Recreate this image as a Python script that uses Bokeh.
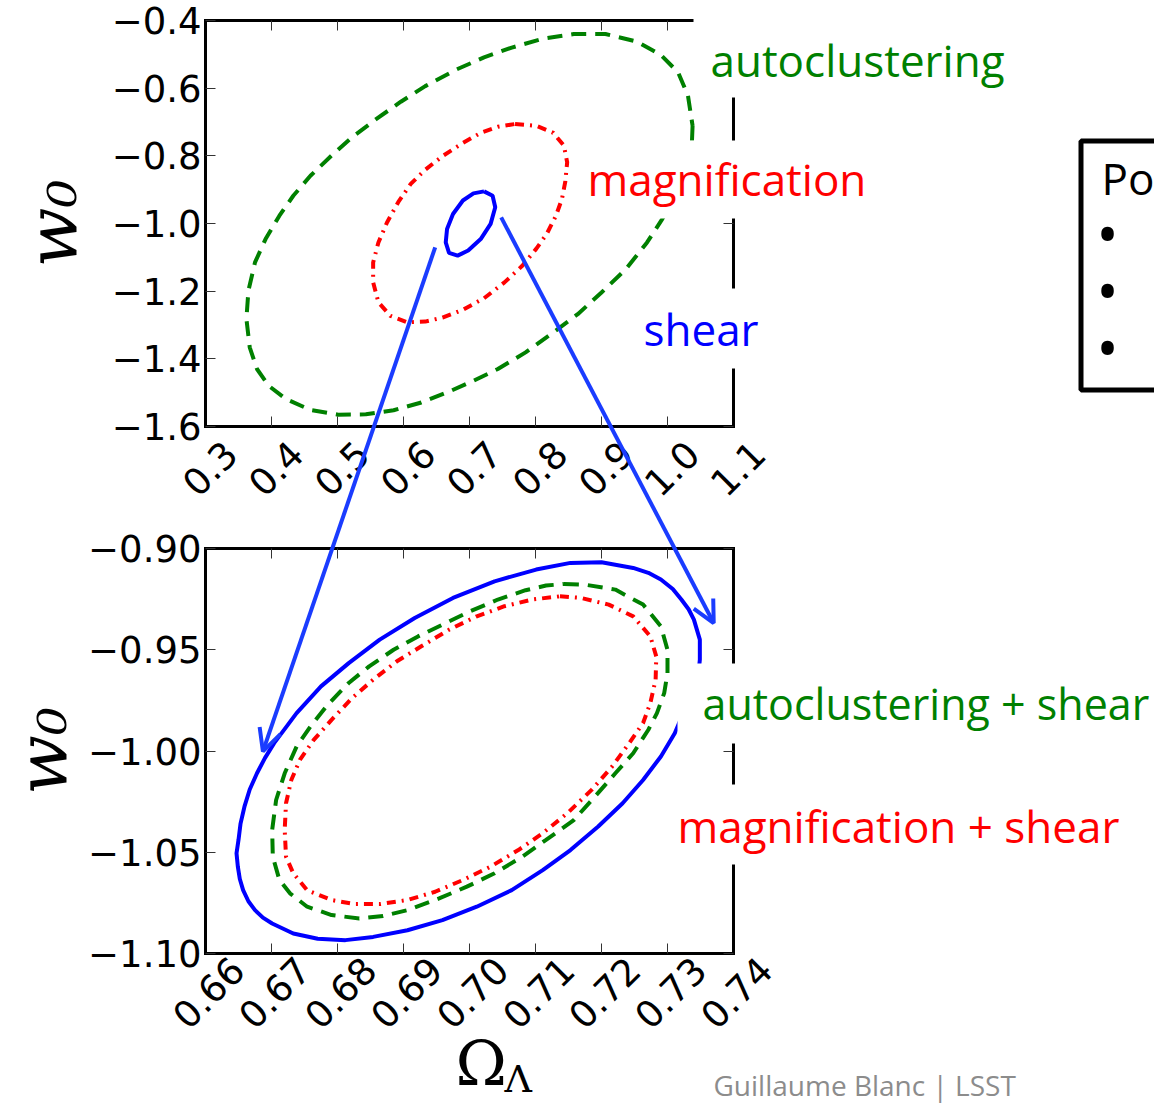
import math
from bokeh.plotting import figure
from bokeh.models import (Range1d, LinearAxis, FixedTicker, CustomJSTickFormatter,
                          Label, Arrow, OpenHead, BoxAnnotation)
from bokeh.embed import file_html
from bokeh.resources import INLINE

# ---------------- data ----------------
top_x_ticks = [0.3, 0.4, 0.5, 0.6, 0.7, 0.8, 0.9, 1.0, 1.1]
top_y_ticks = [-1.6, -1.4, -1.2, -1.0, -0.8, -0.6, -0.4]
bot_x_ticks = [0.66, 0.67, 0.68, 0.69, 0.70, 0.71, 0.72, 0.73, 0.74]
bot_y_ticks = [-1.10, -1.05, -1.00, -0.95, -0.90]

# top panel: autoclustering (green dashed)
top_auto_x = [1.038, 1.037, 1.033, 1.024, 1.010, 0.992, 0.969, 0.937, 0.900, 0.864,
              0.827, 0.785, 0.743, 0.706, 0.669, 0.627, 0.585, 0.543, 0.501, 0.459,
              0.422, 0.396, 0.378, 0.367, 0.362, 0.365, 0.375, 0.391, 0.412, 0.433,
              0.459, 0.491, 0.522, 0.559, 0.596, 0.633, 0.680, 0.722, 0.764, 0.811,
              0.858, 0.906, 0.953, 0.990, 1.016, 1.031, 1.038]
top_auto_y = [-0.711, -0.760, -0.809, -0.868, -0.928, -0.987, -1.056, -1.135, -1.204, -1.268,
              -1.322, -1.381, -1.430, -1.465, -1.497, -1.529, -1.552, -1.564, -1.565, -1.551,
              -1.519, -1.480, -1.430, -1.366, -1.282, -1.199, -1.115, -1.046, -0.977, -0.918,
              -0.859, -0.799, -0.745, -0.691, -0.640, -0.594, -0.545, -0.509, -0.480, -0.454,
              -0.440, -0.440, -0.462, -0.502, -0.553, -0.622, -0.711]
# top panel: magnification (red dash-dot)
top_mag_x = [0.769, 0.801, 0.827, 0.843, 0.848, 0.845, 0.840, 0.831, 0.817, 0.801,
             0.780, 0.753, 0.722, 0.690, 0.659, 0.633, 0.606, 0.580, 0.562, 0.554,
             0.554, 0.562, 0.575, 0.592, 0.611, 0.633, 0.659, 0.690, 0.717, 0.743, 0.769]
top_mag_y = [-0.706, -0.711, -0.732, -0.770, -0.819, -0.878, -0.928, -0.977, -1.031, -1.075,
             -1.125, -1.174, -1.221, -1.255, -1.278, -1.290, -1.292, -1.273, -1.233, -1.174,
             -1.115, -1.056, -0.997, -0.937, -0.883, -0.841, -0.801, -0.762, -0.732, -0.714, -0.706]
# top panel: shear (blue solid)
top_shear_x = [0.722, 0.735, 0.739, 0.732, 0.717, 0.698, 0.682, 0.669, 0.664, 0.666,
               0.675, 0.690, 0.706, 0.722]
top_shear_y = [-0.905, -0.918, -0.952, -1.001, -1.046, -1.080, -1.095, -1.087, -1.056, -1.016,
               -0.972, -0.932, -0.911, -0.905]

# bottom panel: shear (blue solid)
bot_shear_x = [0.7349, 0.7346, 0.7337, 0.7324, 0.7311, 0.7290, 0.7263, 0.7232, 0.7195, 0.7153,
               0.7111, 0.7064, 0.7011, 0.6959, 0.6906, 0.6854, 0.6812, 0.6770, 0.6733, 0.6701,
               0.6687, 0.6675, 0.6665, 0.6657, 0.6652, 0.6649, 0.6647, 0.6650, 0.6653, 0.6659,
               0.6667, 0.6678, 0.6690, 0.6704, 0.6738, 0.6775, 0.6817,
               0.6864, 0.6917, 0.6975, 0.7038, 0.7101, 0.7153, 0.7200, 0.7248, 0.7271, 0.7290,
               0.7308, 0.7321, 0.7332, 0.7340, 0.7349, 0.7349]
bot_shear_y = [-0.9549, -0.9648, -0.9730, -0.9813, -0.9912, -1.0027, -1.0143, -1.0258, -1.0373, -1.0489,
               -1.0588, -1.0687, -1.0769, -1.0835, -1.0885, -1.0918, -1.0934, -1.0927, -1.0901, -1.0852,
               -1.0823, -1.0786, -1.0742, -1.0687, -1.0632, -1.0571, -1.0505, -1.0439, -1.0360, -1.0275,
               -1.0190, -1.0110, -1.0035, -0.9961, -0.9813, -0.9681, -0.9566,
               -0.9450, -0.9343, -0.9244, -0.9162, -0.9104, -0.9071, -0.9068, -0.9096, -0.9120, -0.9153,
               -0.9200, -0.9252, -0.9300, -0.9351, -0.9450, -0.9549]
# bottom panel: autoclustering + shear (green dashed)
bot_auto_x = [0.7143, 0.7174, 0.7221, 0.7263, 0.7290, 0.7300, 0.7300, 0.7295, 0.7284, 0.7271,
              0.7248, 0.7221, 0.7190, 0.7158, 0.7116, 0.7080, 0.7038, 0.6996, 0.6954, 0.6906,
              0.6869, 0.6833, 0.6791, 0.6754, 0.6728, 0.6712, 0.6702, 0.6701, 0.6707, 0.6720,
              0.6738, 0.6759, 0.6785, 0.6817, 0.6848, 0.6885, 0.6922, 0.6959, 0.7001, 0.7043,
              0.7085, 0.7116, 0.7143]
bot_auto_y = [-0.9175, -0.9178, -0.9203, -0.9277, -0.9384, -0.9500, -0.9615, -0.9714, -0.9813, -0.9895,
              -1.0011, -1.0110, -1.0225, -1.0341, -1.0439, -1.0522, -1.0604, -1.0670, -1.0728, -1.0786,
              -1.0815, -1.0827, -1.0810, -1.0769, -1.0703, -1.0637, -1.0522, -1.0390, -1.0242, -1.0110,
              -0.9978, -0.9879, -0.9772, -0.9664, -0.9582, -0.9500, -0.9434, -0.9376, -0.9310, -0.9252,
              -0.9206, -0.9183, -0.9175]
# bottom panel: magnification + shear (red dash-dot)
bot_mag_x = [0.7137, 0.7169, 0.7211, 0.7248, 0.7274, 0.7283, 0.7282, 0.7274, 0.7263, 0.7242,
             0.7216, 0.7185, 0.7148, 0.7111, 0.7074, 0.7032, 0.6990, 0.6948, 0.6906, 0.6864,
             0.6827, 0.6791, 0.6754, 0.6733, 0.6722, 0.6720, 0.6722, 0.6730, 0.6743, 0.6764,
             0.6791, 0.6822, 0.6854, 0.6890, 0.6927, 0.6969, 0.7011, 0.7053, 0.7095, 0.7137]
bot_mag_y = [-0.9236, -0.9244, -0.9277, -0.9335, -0.9434, -0.9533, -0.9648, -0.9763, -0.9862, -0.9961,
             -1.0077, -1.0192, -1.0308, -1.0406, -1.0489, -1.0571, -1.0637, -1.0695, -1.0736, -1.0756,
             -1.0756, -1.0736, -1.0687, -1.0604, -1.0522, -1.0390, -1.0258, -1.0143, -1.0044, -0.9945,
             -0.9846, -0.9739, -0.9648, -0.9557, -0.9483, -0.9401, -0.9335, -0.9285, -0.9252, -0.9236]

# zoom arrows: start in top-panel data, end in bottom-panel data
arrow_starts_top = [(0.648, -1.0705), (0.748, -0.982)]
arrow_ends_bottom = [(0.6687, -1.0002), (0.737, -0.9368)]

# ---------------- layout (page pixels) ----------------
W, H = 1154, 1104
PL, PR = 205, 733                 # panel left / right
TOP_T, TOP_B = 20, 426            # top panel top / bottom
BOT_T, BOT_B = 548, 953           # bottom panel top / bottom
TX, TY = (0.3, 1.1), (-1.6, -0.4)
BX, BY = (0.66, 0.74), (-1.10, -0.90)

GREEN, RED, BLUE, ARROW = "#008000", "#ff0000", "#0000ff", "#1a3cff"
TICK_FONT = "DejaVu Sans"
LABEL_FONT = "Open Sans"
BASELINE_SHIFT = 0.42   # rendered baseline sits this many em below the anchor


def to_data(px, py, xr, yr, top_px, bot_px):
    x = xr[0] + (px - PL) / (PR - PL) * (xr[1] - xr[0])
    y = yr[1] - (py - top_px) / (bot_px - top_px) * (yr[1] - yr[0])
    return x, y


def to_px(x, y, xr, yr, top_px, bot_px):
    px = PL + (x - xr[0]) / (xr[1] - xr[0]) * (PR - PL)
    py = top_px + (yr[1] - y) / (yr[1] - yr[0]) * (bot_px - top_px)
    return px, py


def tdata(px, py):
    return to_data(px, py, TX, TY, TOP_T, TOP_B)


def full_ranges(xr, yr, top_px, bot_px, shift_px=0.0):
    x0, y0 = to_data(0 - shift_px, H, xr, yr, top_px, bot_px)
    x1, y1 = to_data(W - shift_px, 0, xr, yr, top_px, bot_px)
    return Range1d(x0, x1), Range1d(y0, y1)


tx_r, ty_r = full_ranges(TX, TY, TOP_T, TOP_B)
bx_r, by_r = full_ranges(BX, BY, BOT_T, BOT_B)
# ranges shifted right so that the 45-degree tick labels sit centred under their ticks
tx_lbl, _ = full_ranges(TX, TY, TOP_T, TOP_B, shift_px=25)
bx_lbl, _ = full_ranges(BX, BY, BOT_T, BOT_B, shift_px=32)

p = figure(width=W, height=H, x_range=tx_r, y_range=ty_r,
           x_axis_type=None, y_axis_type=None,
           output_backend="svg", toolbar_location=None, min_border=0)
p.extra_x_ranges = {"bx": bx_r, "tx_lbl": tx_lbl, "bx_lbl": bx_lbl}
p.extra_y_ranges = {"by": by_r}
p.outline_line_color = None
p.background_fill_color = "white"
p.border_fill_color = "white"


def fmt(d):
    return CustomJSTickFormatter(code="return tick.toFixed(%d).replace('-', '\\u2212');" % d)


SPINE = dict(axis_line_width=3, axis_line_color="black", axis_line_cap="square",
             major_tick_in=10, major_tick_out=0,
             major_tick_line_color="#333333", major_tick_line_width=1,
             minor_tick_in=0, minor_tick_out=0, minor_tick_line_color=None,
             major_label_text_font_size="0px", major_label_standoff=0)


def blank():
    return CustomJSTickFormatter(code="return '';")


def panel_axes(xname, yname, lblname, xr, yr, xt, yt, digits, xstand, lstand):
    # spines with inward ticks
    p.add_layout(LinearAxis(x_range_name=xname, y_range_name=yname, fixed_location=yr[0],
                            bounds=xr, ticker=FixedTicker(ticks=xt), formatter=blank(), **SPINE), "below")
    p.add_layout(LinearAxis(x_range_name=xname, y_range_name=yname, fixed_location=yr[1],
                            bounds=xr, ticker=FixedTicker(ticks=xt), formatter=blank(), **SPINE), "above")
    p.add_layout(LinearAxis(x_range_name=xname, y_range_name=yname, fixed_location=xr[1],
                            bounds=yr, ticker=FixedTicker(ticks=yt), formatter=blank(), **SPINE), "right")
    left = dict(SPINE)
    left.update(major_label_text_font=TICK_FONT, major_label_text_font_size="37px",
                major_label_text_color="black", major_label_standoff=4)
    p.add_layout(LinearAxis(x_range_name=xname, y_range_name=yname, fixed_location=xr[0],
                            bounds=yr, ticker=FixedTicker(ticks=yt), formatter=fmt(digits),
                            axis_label="w\u2080", axis_label_text_font="DejaVu Serif",
                            axis_label_text_font_style="italic", axis_label_text_font_size="70px",
                            axis_label_standoff=lstand, axis_label_text_color="black", **left), "left")
    # rotated x tick labels (label-only axis on a shifted copy of the x range)
    p.add_layout(LinearAxis(x_range_name=lblname, y_range_name=yname, fixed_location=yr[0],
                            bounds=xr, ticker=FixedTicker(ticks=xt), formatter=fmt(digits),
                            axis_line_color=None, major_tick_line_color=None,
                            minor_tick_line_color=None, major_tick_in=0, major_tick_out=0,
                            minor_tick_in=0, minor_tick_out=0,
                            major_label_orientation=math.pi / 4,
                            major_label_text_font=TICK_FONT, major_label_text_font_size="37px",
                            major_label_text_color="black", major_label_standoff=xstand), "below")


panel_axes("default", "default", "tx_lbl", TX, TY, top_x_ticks, top_y_ticks, 1, 21, 16)
panel_axes("bx", "by", "bx_lbl", BX, BY, bot_x_ticks, bot_y_ticks, 2, 10, 2)

# ---------------- contours ----------------
p.line(top_auto_x, top_auto_y, line_color=GREEN, line_width=4, line_dash="15 9")
p.line(top_mag_x, top_mag_y, line_color=RED, line_width=4, line_dash="9 6 2 6")
p.line(top_shear_x, top_shear_y, line_color=BLUE, line_width=4)

p.line(bot_shear_x, bot_shear_y, line_color=BLUE, line_width=4, x_range_name="bx", y_range_name="by")
p.line(bot_auto_x, bot_auto_y, line_color=GREEN, line_width=4, line_dash="15 9",
       x_range_name="bx", y_range_name="by")
p.line(bot_mag_x, bot_mag_y, line_color=RED, line_width=4, line_dash="9 6 2 6",
       x_range_name="bx", y_range_name="by")

# ---------------- zoom arrows (top-panel coordinates) ----------------
for (sx, sy), (ex, ey) in zip(arrow_starts_top, arrow_ends_bottom):
    epx = to_px(ex, ey, BX, BY, BOT_T, BOT_B)
    tex, tey = tdata(*epx)
    p.add_layout(Arrow(end=OpenHead(size=22, line_color=ARROW, line_width=4),
                       x_start=sx, y_start=sy, x_end=tex, y_end=tey,
                       line_color=ARROW, line_width=4))


# ---------------- white label boxes (they hide parts of the frames) ----------------
def white_box(l, t, r, b, **kw):
    (x0, y0), (x1, y1) = tdata(l, b), tdata(r, t)
    opts = dict(fill_color="white", fill_alpha=1.0, line_color=None)
    opts.update(kw)
    p.add_layout(BoxAnnotation(left=x0, right=x1, bottom=y0, top=y1, **opts))


white_box(693, 4, 1012, 97)      # autoclustering
white_box(578, 140, 872, 218)    # magnification
white_box(634, 288, 762, 368)    # shear
white_box(677, 663, 1154, 743)   # autoclustering + shear
white_box(668, 784, 1118, 864)   # magnification + shear
white_box(1080.5, 140.5, 1200, 389.5, line_color="black", line_alpha=1.0, line_width=5)   # slide box


def text(px, baseline_px, s, color, size, font=LABEL_FONT, align="left"):
    x, y = tdata(px, baseline_px - BASELINE_SHIFT * size)
    p.add_layout(Label(x=x, y=y, text=s, text_color=color, text_font=font,
                       text_font_size="%dpx" % size, text_align=align,
                       text_baseline="alphabetic"))


text(710, 78, "autoclustering", GREEN, 44)
text(587, 197, "magnification", RED, 44)
text(643, 347, "shear", BLUE, 44)
text(702, 721, "autoclustering + shear", GREEN, 43)
text(677, 844, "magnification + shear", RED, 44)

text(1101, 196, "Po", "black", 44)
for by in (236, 293, 350):
    text(1107, by + 22, "\u2022", "black", 60, align="center")

# x-axis label  Omega_Lambda
text(455, 1089, "\u03a9", "black", 62, font="DejaVu Serif")
text(504, 1094, "\u039b", "black", 38, font="DejaVu Serif")

# footer
text(713, 1096, "Guillaume Blanc | LSST", "#8c8c8c", 28)

open("out.html", "w").write(file_html(p, INLINE))
